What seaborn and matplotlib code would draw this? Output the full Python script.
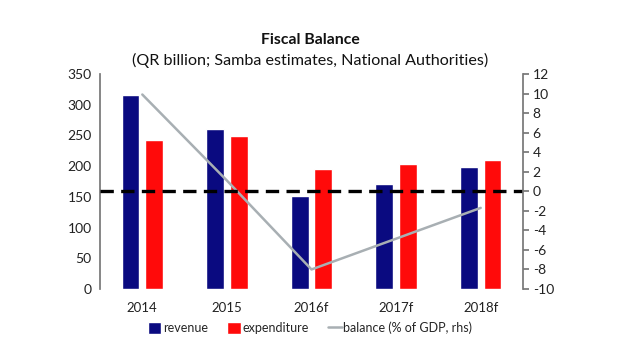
import matplotlib
matplotlib.use("Agg")
import matplotlib.pyplot as plt
import seaborn as sns
import pandas as pd
from matplotlib.lines import Line2D
from matplotlib.patches import Patch

years = ["2014", "2015", "2016f", "2017f", "2018f"]
revenue = [316, 260, 151, 171, 198]
expenditure = [243, 249, 196, 203, 210]
balance = [9.9, 1.1, -8.0, -4.85, -1.7]

sns.set_theme(style="white")
plt.rcParams['font.family'] = ['Lato', 'DejaVu Sans']
plt.rcParams['axes.unicode_minus'] = False

df = pd.DataFrame({
    "year": years * 2,
    "value": revenue + expenditure,
    "series": ["revenue"] * len(years) + ["expenditure"] * len(years),
})

fig = plt.figure(figsize=(6.2, 3.55), dpi=100)
ax = fig.add_axes([100/620, 1-289/355, 423/620, 215/355])
navy = "#0A0A80"
red = "#FF0A0A"
grey = "#A8AFB3"

sns.barplot(data=df, x="year", y="value", hue="series", palette=[navy, red],
            width=0.56, gap=0.25, ax=ax, legend=False, saturation=1)
ax.set_xlim(-0.5, 4.5)
ax.set_ylim(0, 350)
ax.set_yticks(range(0, 351, 50))
ax.set_xlabel("")
ax.set_ylabel("")
for s in ["top", "right", "bottom"]:
    ax.spines[s].set_visible(False)
ax.spines["left"].set_color("#777777")
ax.tick_params(axis="y", length=0, labelsize=10, colors="#222222", pad=6)
ax.tick_params(axis="x", length=0, labelsize=9.5, colors="#222222", pad=9)

ax2 = ax.twinx()
ax2.set_ylim(-10, 12)
ax2.set_yticks(range(-10, 13, 2))
sns.lineplot(x=list(range(len(years))), y=balance, ax=ax2, color=grey, linewidth=1.8)
ax2.axhline(0, color="black", linestyle=(0, (4, 2.2)), linewidth=2.4)
for s in ["top", "left", "bottom"]:
    ax2.spines[s].set_visible(False)
ax2.spines["right"].set_color("#777777")
ax2.tick_params(axis="y", length=4, direction="out", labelsize=10, colors="#777777",
                labelcolor="#222222", pad=3)
ax2.set_xlim(-0.5, 4.5)

fig.text(0.5, 1-40/355, "Fiscal Balance", ha="center", va="center", fontsize=11.3, fontweight="bold", color="#111111")
fig.text(0.5, 1-60/355, "(QR billion; Samba estimates, National Authorities)", ha="center", va="center", fontsize=11.6, color="#111111")

handles = [Patch(facecolor=navy, label="revenue"),
           Patch(facecolor=red, label="expenditure"),
           Line2D([0], [0], color=grey, linewidth=1.8, label="balance (% of GDP, rhs)")]
fig.legend(handles=handles, loc="center", bbox_to_anchor=(0.5, 1-328/355), ncol=3, frameon=False,
           fontsize=9, handlelength=1.1, handletextpad=0.15, columnspacing=1.5, handleheight=1.0)

fig.savefig("out.png", dpi=100, facecolor="white")
